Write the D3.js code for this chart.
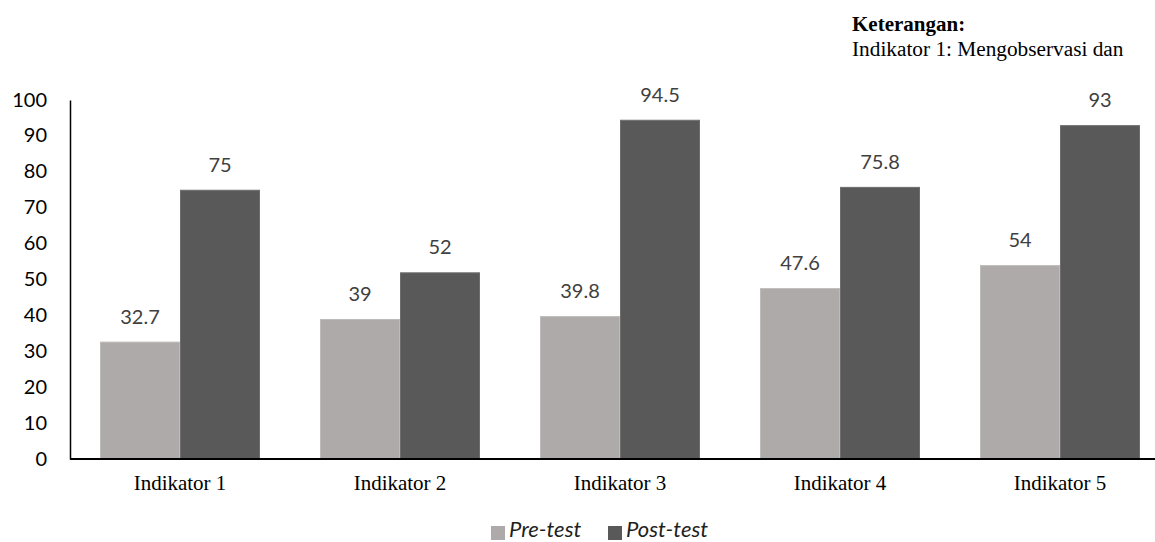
<!DOCTYPE html>
<html>
<head>
<meta charset="utf-8">
<script src="https://cdn.jsdelivr.net/npm/d3@7"></script>
<style>
  html, body { margin: 0; padding: 0; background: #fff; overflow: hidden; }
  svg { display: block; }
</style>
</head>
<body>
<svg id="chart" width="1155" height="542"></svg>
<script>
const categories = ["Indikator 1", "Indikator 2", "Indikator 3", "Indikator 4", "Indikator 5"];
const seriesNames = ["Pre-test", "Post-test"];
const preTest = [32.7, 39, 39.8, 47.6, 54];
const postTest = [75, 52, 94.5, 75.8, 93];
const yTicks = [0, 10, 20, 30, 40, 50, 60, 70, 80, 90, 100];
const noteTitle = "Keterangan:";
const noteLines = ["Indikator 1: Mengobservasi dan"];

const colors = ["#AEAAA9", "#595959"];
const strokes = ["#bdbab9", "#6e6e6e"];
const seriesValues = [preTest, postTest];

const svg = d3.select("#chart");
svg.append("rect").attr("width", 1155).attr("height", 542).attr("fill", "#fff");

const x0 = d3.scaleBand().domain(categories).range([70, 1170])
  .paddingInner(60 / 220).paddingOuter(30 / 220);
const x1 = d3.scaleBand().domain(seriesNames).range([0, x0.bandwidth()]);
const y = d3.scaleLinear().domain([0, 100]).range([459, 100]);

const numFont = "Lato, 'Open Sans', sans-serif";

// Bars
const groups = svg.append("g").selectAll("g")
  .data(categories).join("g")
  .attr("transform", d => `translate(${x0(d)},0)`);

groups.selectAll("rect")
  .data((d, i) => seriesNames.map((s, j) => ({ s, j, v: seriesValues[j][i] })))
  .join("rect")
  .attr("x", d => x1(d.s) + 0.5)
  .attr("y", d => y(d.v) + 0.5)
  .attr("width", x1.bandwidth() - 1)
  .attr("height", d => y(0) - y(d.v) - 0.5)
  .attr("fill", d => colors[d.j])
  .attr("stroke", d => strokes[d.j])
  .attr("stroke-width", 1);

// Value labels
groups.selectAll("text.val")
  .data((d, i) => seriesNames.map((s, j) => ({ s, j, v: seriesValues[j][i] })))
  .join("text")
  .attr("class", "val")
  .attr("x", d => x1(d.s) + x1.bandwidth() / 2)
  .attr("y", d => y(d.v) - 18)
  .attr("text-anchor", "middle")
  .attr("font-family", numFont)
  .attr("font-size", 20)
  .attr("fill", "#404040")
  .text(d => d.v);

// Y axis
const yAxis = d3.axisLeft(y).tickValues(yTicks).tickSize(0).tickPadding(23).tickFormat(d3.format("d"));
const gy = svg.append("g").attr("transform", "translate(70,0)").call(yAxis);
gy.select(".domain").attr("stroke", "#000").attr("stroke-width", 1.5);
gy.selectAll("text")
  .attr("font-family", numFont)
  .attr("font-size", 20)
  .attr("fill", "#000")
  .attr("dy", "0.3em");

// X axis
const xAxis = d3.axisBottom(x0).tickSize(0).tickPadding(16);
const gx = svg.append("g").attr("transform", "translate(0,459)").call(xAxis);
gx.select(".domain").attr("stroke", "#000").attr("stroke-width", 2)
  .attr("d", "M70,0H1155");
gx.selectAll("text")
  .attr("font-family", "'Liberation Serif', 'Times New Roman', serif")
  .attr("font-size", 21)
  .attr("fill", "#000")
  .attr("dy", "0.71em");

// Legend
const legend = svg.append("g");
const legendX = [491, 608];
seriesNames.forEach((s, j) => {
  legend.append("rect")
    .attr("x", legendX[j]).attr("y", 526)
    .attr("width", 14).attr("height", 14)
    .attr("fill", colors[j]);
  legend.append("text")
    .attr("x", legendX[j] + 18).attr("y", 537)
    .attr("font-family", numFont)
    .attr("font-style", "italic")
    .attr("font-size", 22)
    .attr("fill", "#1f1f1f")
    .text(s);
});

// Note (Keterangan)
const note = svg.append("g").attr("font-family", "'Liberation Serif', 'Times New Roman', serif").attr("fill", "#000");
note.append("text").attr("x", 852).attr("y", 31).attr("font-size", 21).attr("font-weight", "bold").text(noteTitle);
noteLines.forEach((t, i) => {
  note.append("text").attr("x", 852).attr("y", 56 + i * 24).attr("font-size", 21.3).text(t);
});
</script>
</body>
</html>
